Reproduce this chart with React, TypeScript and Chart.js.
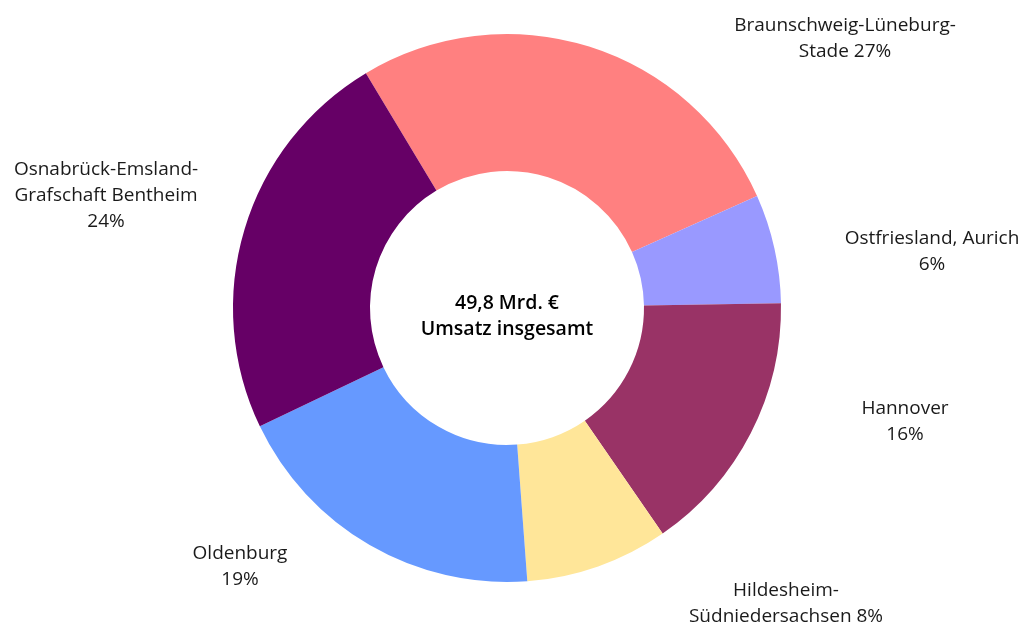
import React, { useEffect, useRef } from "react";
import { Chart, registerables } from "chart.js";

Chart.register(...registerables);

// Umsatz in Mrd. € nach Region
const regions = [
  ["Braunschweig-Lüneburg-", "Stade"],
  ["Ostfriesland, Aurich"],
  ["Hannover"],
  ["Hildesheim-", "Südniedersachsen"],
  ["Oldenburg"],
  ["Osnabrück-Emsland-", "Grafschaft Bentheim"],
];
const revenue = [13.4, 3.2, 7.8, 4.2, 9.5, 11.7];
const percentLabels = ["27%", "6%", "16%", "8%", "19%", "24%"];
const centerLines = ["49,8 Mrd. €", "Umsatz insgesamt"];
const colors = ["#FF8080", "#9999FF", "#993366", "#FFE699", "#6699FF", "#660066"];

// label layout: offset of the first line from the chart centre
const labelLayout = [
  { dx: 338, dy: -282, appendPct: true },
  { dx: 425, dy: -69, appendPct: false },
  { dx: 398, dy: 101, appendPct: false },
  { dx: 279, dy: 283, appendPct: true },
  { dx: -267, dy: 246, appendPct: false },
  { dx: -401, dy: -138, appendPct: false },
];

const FONT = "'Open Sans', 'Noto Sans', sans-serif";

const labelPlugin = {
  id: "outerLabels",
  afterDraw(chart: any) {
    const ctx = chart.ctx;
    const meta = chart.getDatasetMeta(0);
    const arc = meta.data[0];
    if (!arc) return;
    const cx = arc.x;
    const cy = arc.y;
    const lh = 26;
    ctx.save();
    ctx.fillStyle = "#1a1a1a";
    ctx.textAlign = "center";
    ctx.textBaseline = "middle";
    ctx.font = `19px ${FONT}`;
    regions.forEach((lines, i) => {
      const lay = labelLayout[i];
      const out = lines.slice();
      if (lay.appendPct) out[out.length - 1] = out[out.length - 1] + " " + percentLabels[i];
      else out.push(percentLabels[i]);
      out.forEach((t, k) => ctx.fillText(t, cx + lay.dx, cy + lay.dy + k * lh));
    });
    ctx.font = `600 19.5px ${FONT}`;
    ctx.fillStyle = "#000";
    ctx.fillText(centerLines[0], cx, cy - 5);
    ctx.fillText(centerLines[1], cx, cy + 21);
    ctx.restore();
  },
};

export default function App() {
  const ref = useRef<HTMLCanvasElement | null>(null);
  useEffect(() => {
    if (!ref.current) return;
    const chart = new Chart(ref.current, {
      type: "doughnut",
      data: {
        labels: regions.map((r) => r.join(" ")),
        datasets: [
          {
            data: revenue,
            backgroundColor: colors,
            borderWidth: 0,
          },
        ],
      },
      options: {
        animation: false,
        responsive: false,
        maintainAspectRatio: false,
        rotation: -31,
        cutout: "50%",
        layout: { padding: { top: 34, bottom: 44, left: 0, right: 13 } },
        plugins: {
          legend: { display: false },
          tooltip: { enabled: false },
        },
      },
      plugins: [labelPlugin],
    });
    return () => chart.destroy();
  }, []);
  return (
    <div style={{ position: "absolute", left: 0, top: 0, width: 1027, height: 626 }}>
      <canvas ref={ref} width={1027} height={626} style={{ width: 1027, height: 626 }} />
    </div>
  );
}
